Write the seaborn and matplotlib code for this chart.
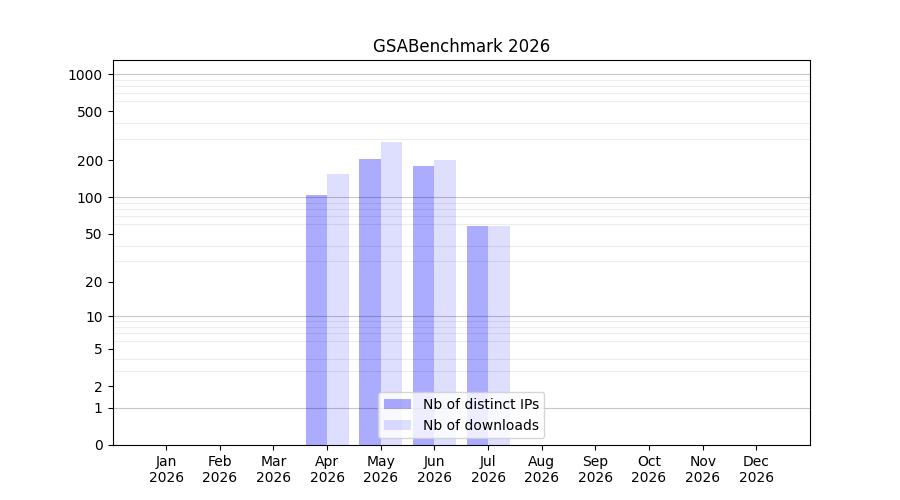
import numpy as np
import pandas as pd
import seaborn as sns
import matplotlib
matplotlib.use("Agg")
import matplotlib.pyplot as plt
from matplotlib.ticker import FixedLocator, NullFormatter

### data
months = ['Jan', 'Feb', 'Mar', 'Apr', 'May', 'Jun', 'Jul', 'Aug', 'Sep', 'Oct', 'Nov', 'Dec']
year = '2026'
distinct_ips = [0, 0, 0, 105, 205, 180, 58, 0, 0, 0, 0, 0]
downloads = [0, 0, 0, 155, 282, 200, 58, 0, 0, 0, 0, 0]
yticks = [0, 1, 2, 5, 10, 20, 50, 100, 200, 500, 1000]
series = ['Nb of distinct IPs', 'Nb of downloads']
alphas = [0.33, 0.13]

df = pd.DataFrame({
    'month': months * 2,
    'value': distinct_ips + downloads,
    'kind': [series[0]] * 12 + [series[1]] * 12,
})

fig, ax = plt.subplots(figsize=(9, 5), dpi=100)

sns.barplot(data=df, x='month', y='value', hue='kind', order=months, hue_order=series,
            palette=['#0000ff', '#0000ff'], saturation=1, linewidth=0, ax=ax, errorbar=None)

# alpha per series
for cont, a in zip(ax.containers, alphas):
    for p in cont:
        p.set_alpha(a)

### log(1+x) scale
ax.set_yscale('function', functions=(lambda v: np.log10(1 + np.maximum(v, 0)),
                                     lambda v: 10 ** v - 1))
ax.set_ylim(0, 1300)
ax.set_xlim(-1, 12)

ax.yaxis.set_major_locator(FixedLocator(yticks))
ax.set_yticklabels([str(t) for t in yticks])
minors = [m * 10 ** k for k in range(3) for m in range(2, 10)]
ax.yaxis.set_minor_locator(FixedLocator(minors))
ax.yaxis.set_minor_formatter(NullFormatter())
ax.tick_params(axis='y', which='minor', length=0)
ax.yaxis.grid(True, which='minor', color='black', alpha=0.07, linewidth=0.8)
for v in [1, 10, 100, 1000]:
    ax.axhline(v, color='black', alpha=0.22, linewidth=0.8, zorder=1.5)

ax.set_xticks(range(12))
ax.set_xticklabels([m + '\n' + year for m in months])
ax.set_xlabel('')
ax.set_ylabel('')
ax.set_title('GSABenchmark ' + year)

handles, labels = ax.get_legend_handles_labels()
leg = ax.legend(handles, labels, loc='lower center')
for h, a in zip(leg.legend_handles, alphas):
    h.set_alpha(a)

plt.savefig('out.png')
